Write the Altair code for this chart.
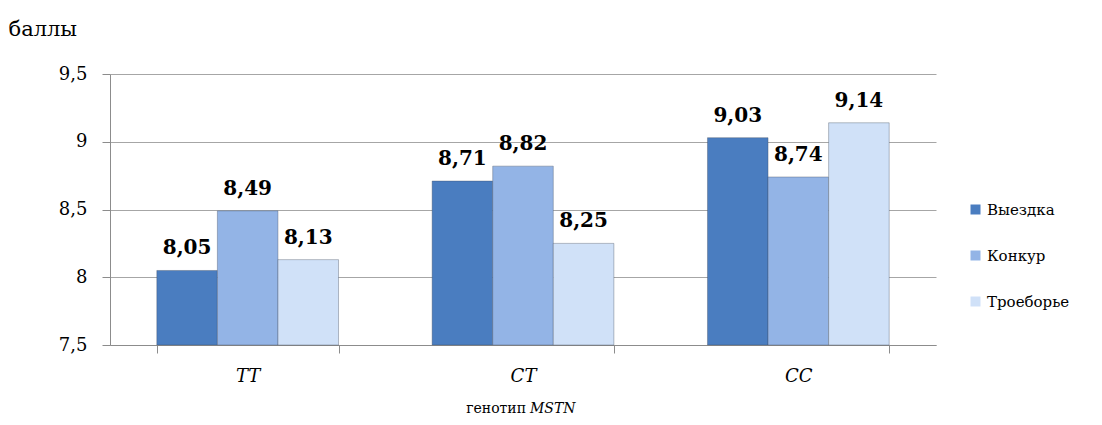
import altair as alt
import pandas as pd

genotypes = ["TT", "CT", "CC"]
series = ["Выездка", "Конкур", "Троеборье"]
colors = ["#4A7DC0", "#93B4E6", "#D0E1F8"]
vyezdka = [8.05, 8.71, 9.03]
konkur = [8.49, 8.82, 8.74]
troeborye = [8.13, 8.25, 9.14]
y_ticks = [7.5, 8, 8.5, 9, 9.5]

rows = []
for s, vals in zip(series, [vyezdka, konkur, troeborye]):
    for g, v in zip(genotypes, vals):
        rows.append({"g": g, "s": s, "v": v})
df = pd.DataFrame(rows)

FONT = "DejaVu Serif"
W, H = 826, 271

base = alt.Chart(df).encode(
    x=alt.X("g:N", sort=genotypes,
            scale=alt.Scale(paddingInner=0.34, paddingOuter=0.17),
            axis=alt.Axis(title=None, labelFont=FONT, labelFontSize=18,
                          labelFontStyle="italic", labelColor="black",
                          labelPadding=14, tickBand="extent", tickSize=8,
                          domainColor="#8C8C8C", tickColor="#8C8C8C",
                          labelAngle=0, grid=False)),
    xOffset=alt.XOffset("s:N", sort=series),
)

yscale = alt.Scale(domain=[7.5, 9.5], zero=False, clamp=True, nice=False, padding=0)

bars = base.mark_bar(stroke="#3F4A5A", strokeWidth=0.6, strokeOpacity=0.6).encode(
    y=alt.Y("v:Q", scale=yscale,
            axis=alt.Axis(values=y_ticks, title="баллы", titleAngle=0,
                          titleFont=FONT, titleFontSize=21, titleFontWeight="normal",
                          titleAlign="left", titleBaseline="alphabetic",
                          titleX=-102, titleY=-39, titleColor="black",
                          labelFont=FONT, labelFontSize=18, labelColor="black",
                          labelPadding=15, tickSize=8, grid=True,
                          gridColor="#A6A6A6", domainColor="#8C8C8C",
                          tickColor="#8C8C8C",
                          labelExpr="replace(toString(datum.value), '.', ',')")),
    color=alt.Color("s:N", sort=series,
                    scale=alt.Scale(domain=series, range=colors),
                    legend=alt.Legend(title=None, orient="none", legendX=858,
                                      legendY=128, symbolType="square",
                                      symbolSize=100, symbolStrokeWidth=0,
                                      labelFont=FONT, labelFontSize=15,
                                      labelColor="black", rowPadding=30,
                                      labelOffset=4)),
)

labels = base.mark_text(font=FONT, fontSize=20, fontWeight="bold",
                        baseline="bottom", dy=-12, color="black").transform_calculate(
    lab="replace(format(datum.v, '.2f'), '.', ',')"
).encode(
    y=alt.Y("v:Q", scale=yscale),
    text="lab:N",
)

t1 = alt.Chart(pd.DataFrame({"t": ["генотип"]})).mark_text(
    font=FONT, fontSize=14, align="right", baseline="middle", color="black"
).encode(x=alt.value(416), y=alt.value(335), text="t:N")
t2 = alt.Chart(pd.DataFrame({"t": ["MSTN"]})).mark_text(
    font=FONT, fontSize=14, fontStyle="italic", align="left", baseline="middle", color="black"
).encode(x=alt.value(420), y=alt.value(335), text="t:N")

chart = alt.layer(bars, labels, t1, t2).properties(
    width=W, height=H,
    autosize=alt.AutoSizeParams(type="none"),
    padding={"left": 110, "top": 74, "right": 166, "bottom": 80},
).configure(background="white", font=FONT).configure_view(strokeWidth=0, stroke="transparent")

chart.save("out.html", embed_options={"renderer": "svg", "actions": False})
